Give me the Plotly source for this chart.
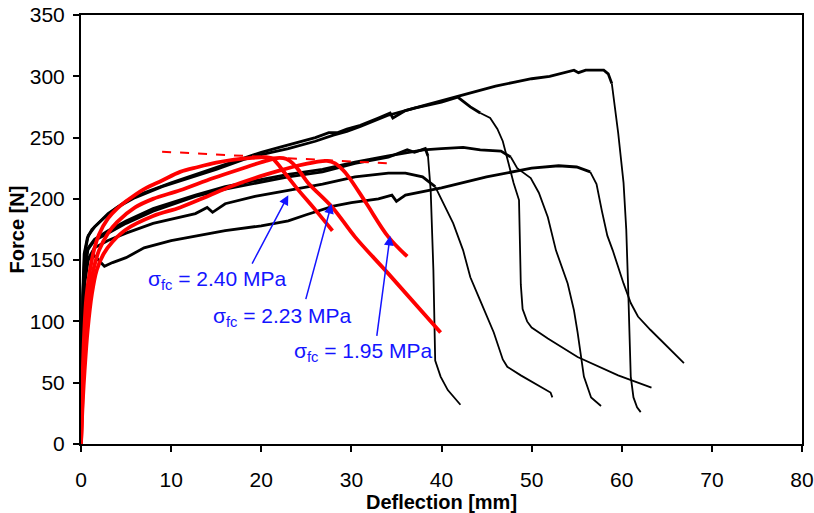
import plotly.graph_objects as go

# Measured force-deflection records of six specimens (deflection in mm, force in N)
spec1_x = [0, 0.08, 0.18, 0.35, 0.7, 1.2, 2, 3, 5, 7, 10, 12, 15, 17, 20, 22, 24, 26, 27.5, 28.5,
           29.5, 31, 33, 34.3, 34.6, 36, 38, 40, 41.8, 44, 46, 48, 50, 52, 53.5, 54.7, 55.2, 56,
           58, 58.5, 58.9, 59.6, 60.2, 60.5, 60.7, 60.9, 61, 61.3, 61.7, 62.1]
spec1_y = [0, 60, 120, 155, 168, 175, 181, 188, 198, 205, 213, 218, 225, 230, 238, 242, 246, 250, 254, 254,
           257, 260, 266, 270, 266, 272, 276, 280, 284, 288, 292, 295, 298, 300, 303, 305, 303, 305,
           305, 302, 294, 254, 213, 175, 130, 90, 55, 38, 30, 26]

spec2_x = [0, 0.1, 0.2, 0.4, 0.8, 1.5, 2.5, 4, 6, 9, 12, 15, 18, 20, 23, 26, 28, 29.5, 31, 34,
           37, 40, 41.8, 43.2, 44.3, 45.4, 46.2, 46.8, 47.4, 48, 48.6, 48.7, 48.8, 49.0, 49.5, 50,
           51.8, 55.1, 59.6, 63.3]
spec2_y = [0, 60, 120, 155, 170, 177, 184, 193, 201, 210, 217, 224, 232, 236, 241, 247, 252, 255, 259, 268,
           274, 279, 283, 275, 270, 266, 257, 247, 230, 213, 199, 170, 130, 110, 100, 95,
           86, 71, 56, 46]

spec3_x = [0, 0.1, 0.2, 0.35, 0.7, 1.5, 3, 5, 8, 12.7, 16, 19.3, 23, 26.8, 30.4, 34.1, 36.2, 37,
           38.2, 38.5, 38.8, 39.1, 39.3, 39.9, 40.7, 42.1]
spec3_y = [0, 50, 100, 140, 158, 166, 172, 180, 190, 202, 208, 213, 218, 222, 229, 234, 240, 238,
           241, 235, 207, 142, 68, 55, 44, 32]

spec4_x = [0, 0.12, 0.25, 0.4, 0.8, 1.5, 3, 5, 8, 12.7, 16, 19.3, 23, 26.8, 30.4, 34.1, 36.2, 38,
           40, 42.4, 44.3, 46.6, 47.7, 48.4, 49.9, 50.8, 51.8, 52.7, 54, 54.7, 55.1, 55.8, 56.6, 57.7]
spec4_y = [0, 50, 100, 140, 160, 167, 174, 182, 192, 203, 210, 215, 220, 224, 230, 235, 238, 240,
           241, 242, 240, 239, 234, 225, 217, 205, 185, 158, 131, 109, 91, 55, 38, 31]

spec5_x = [0, 0.1, 0.2, 0.35, 0.7, 1.5, 3, 5, 8, 12.7, 14, 14.6, 16, 19.3, 23, 26.8, 30.4, 34.1, 36,
           37.9, 39.3, 40.2, 41.3, 42.4, 43.2, 44.3, 45.8, 46.8, 47.3, 48.8, 50.2, 52.1, 52.3]
spec5_y = [0, 50, 100, 135, 150, 160, 166, 172, 180, 188, 193, 189, 196, 202, 207, 212, 218, 221, 221,
           218, 210, 197, 180, 158, 136, 117, 91, 69, 63, 56, 50, 42, 38]

spec6_x = [0, 0.15, 0.4, 0.8, 1.3, 2, 2.6, 3.5, 5, 7, 10, 13, 16, 20, 23, 25, 28, 30, 33, 34.5,
           35, 36, 40, 45, 50, 53, 55, 56.5, 57.2, 57.8, 58.4, 59, 60.2, 61, 61.8, 63.2, 65.1, 66.9]
spec6_y = [0, 80, 130, 150, 155, 150, 145, 148, 152, 160, 166, 170, 174, 178, 182, 187, 194, 197, 200, 203,
           198, 203, 209, 218, 225, 227, 226, 222, 212, 190, 170, 158, 131, 115, 104, 93, 79, 66]

# Model predictions for three residual flexural strengths
model_240_x = [0, 0.1, 0.2, 0.37, 0.6, 1, 1.5, 2, 3, 4, 5, 7, 9, 11, 13, 15, 17, 19, 20.5,
               21.3, 22.3, 23.8, 26, 27.9]
model_240_y = [0, 35, 60, 93, 120, 142, 160, 171, 184, 192, 198, 208, 215, 222, 226, 229.5, 232, 233.5, 234,
               232.5, 224, 210, 191, 174]

model_223_x = [0, 0.15, 0.3, 0.55, 0.9, 1.37, 2, 3, 4, 6, 8, 11, 14.7, 18.4, 20.5, 22, 22.8,
               23.5, 24.3, 25.2, 27.9, 30.4, 34.1, 39.9]
model_223_y = [0, 35, 62, 93, 120, 142, 158, 172, 181, 193, 200, 207, 217, 226, 231, 233.5, 232.5,
               229, 222, 213, 193, 169, 139, 91]

model_195_x = [0, 0.2, 0.4, 0.74, 1.2, 1.75, 2.5, 3.5, 5, 8, 11, 14, 16.6, 19.3, 22, 24, 26, 27.3,
               28.2, 29, 29.7, 31.6, 34.1, 36.2]
model_195_y = [0, 35, 60, 93, 122, 142, 155, 165, 175, 186, 193, 202, 210, 217, 223, 227, 230, 231,
               229, 224, 218, 197, 169, 153]

# Dashed line through the peaks of the model curves
peak_line_x = [9, 34]
peak_line_y = [238.5, 229]

# Strength labels and the points their arrows indicate
label_text = ["σ<sub>fc</sub> = 2.40 MPa", "σ<sub>fc</sub> = 2.23 MPa", "σ<sub>fc</sub> = 1.95 MPa"]
label_x = [15.2, 22.4, 31.4]
label_y = [134, 104, 75]
arrow_tail_x = [18.9, 24.9, 32.8]
arrow_tail_y = [146, 117, 87]
arrow_head_x = [23.0, 27.8, 34.3]
arrow_head_y = [203, 196, 170]

FONT = "Arial, 'Liberation Sans', sans-serif"
BLUE = "#1414ff"

fig = go.Figure()

specimens = [(spec1_x, spec1_y), (spec2_x, spec2_y), (spec3_x, spec3_y),
             (spec4_x, spec4_y), (spec5_x, spec5_y), (spec6_x, spec6_y)]
for xs, ys in specimens:
    # pre-peak record drawn heavier, post-peak (softening) branch lighter
    top = max(ys)
    split = max(i for i, v in enumerate(ys) if v >= 0.95 * top)
    fig.add_trace(go.Scatter(x=xs[:split + 1], y=ys[:split + 1], mode="lines",
                             line=dict(color="black", width=2.8), hoverinfo="skip"))
    fig.add_trace(go.Scatter(x=xs[split:], y=ys[split:], mode="lines",
                             line=dict(color="black", width=1.8), hoverinfo="skip"))

fig.add_trace(go.Scatter(x=peak_line_x, y=peak_line_y, mode="lines",
                         line=dict(color="#ff0000", width=2, dash="dash")))

for xs, ys in [(model_240_x, model_240_y), (model_223_x, model_223_y), (model_195_x, model_195_y)]:
    fig.add_trace(go.Scatter(x=xs, y=ys, mode="lines", line_shape="spline",
                             line=dict(color="#ff0000", width=3.8)))

for i in range(3):
    fig.add_annotation(x=arrow_head_x[i], y=arrow_head_y[i], ax=arrow_tail_x[i], ay=arrow_tail_y[i],
                       xref="x", yref="y", axref="x", ayref="y", text="", showarrow=True,
                       arrowhead=2, arrowsize=1.3, arrowwidth=1.5, arrowcolor=BLUE)
    fig.add_annotation(x=label_x[i], y=label_y[i], xref="x", yref="y", text=label_text[i],
                       showarrow=False, font=dict(family=FONT, size=21, color=BLUE))

axis_common = dict(showgrid=False, zeroline=False, showline=True, linewidth=2, linecolor="black",
                   mirror=True, ticks="outside", ticklen=6, tickwidth=1.5, tickcolor="black",
                   automargin=False,
                   tickfont=dict(family=FONT, size=21, color="black"))

fig.update_xaxes(range=[0, 80], tick0=0, dtick=10, ticklabelstandoff=10,
                 title=dict(text="<b>Deflection [mm]</b>", font=dict(family=FONT, size=20), standoff=2),
                 **axis_common)
fig.update_yaxes(range=[0, 350], tick0=0, dtick=50, ticklabelstandoff=4,
                 title=dict(text="<b>Force [N]</b>", font=dict(family=FONT, size=20), standoff=0),
                 **axis_common)

fig.update_layout(width=814, height=513, margin=dict(l=81, r=12, t=15, b=69),
                  plot_bgcolor="white", paper_bgcolor="white", showlegend=False,
                  font=dict(family=FONT, color="black"))

fig.write_html("out.html")
